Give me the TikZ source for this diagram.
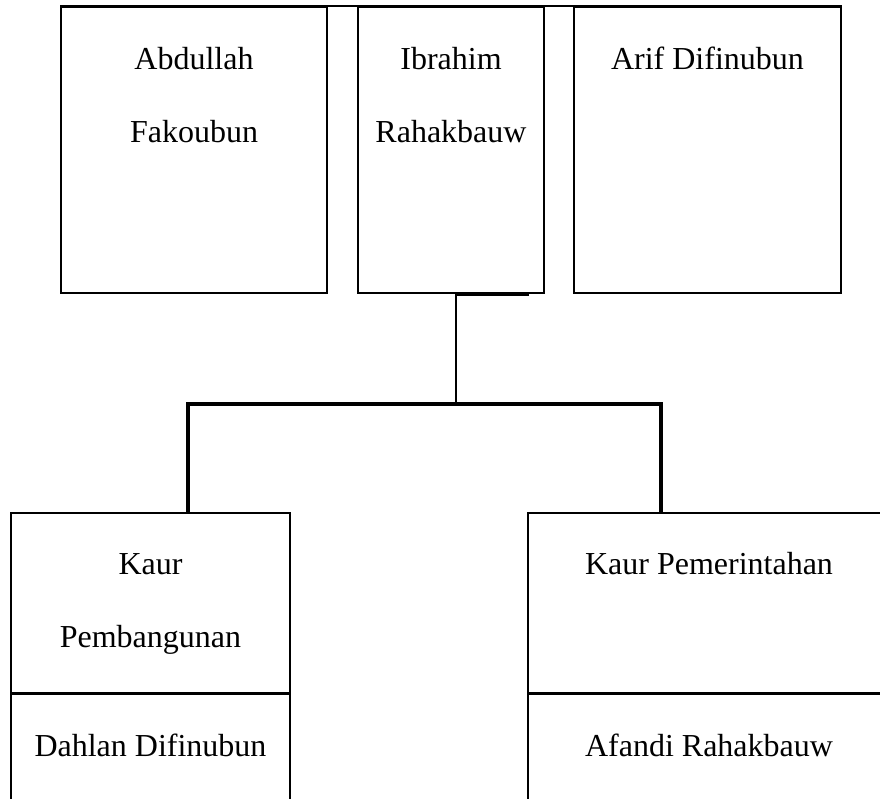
\documentclass[tikz,border=0pt]{standalone}
\usepackage{fontspec}
\setmainfont{Liberation Serif}
\usepackage{tikz}
\usetikzlibrary{positioning}
\tikzset{
  box/.style={draw, rectangle, line width=1.6pt, inner sep=0pt},
  link/.style={draw, line width=1.6pt},
  trunk/.style={draw, line width=4pt},
  tick/.style={draw, line width=3pt},
  lab/.style={font=\fontsize{32}{38}\selectfont, anchor=base, inner sep=0pt}
}

\begin{document}
\begin{tikzpicture}[x=1pt,y=-1pt]
  \useasboundingbox (0,0) rectangle (880,798);
  \clip (0,0) rectangle (880,798);

  % top row
  \node[box, minimum width=266pt, minimum height=286pt] (abdullah) at (194,150) {};
  \node[box, minimum width=186pt, minimum height=286pt] (ibrahim) at (451,150) {};
  \node[box, minimum width=267pt, minimum height=286pt] (arif) at (707.5,150) {};
  \draw[link] (abdullah.north west) -- (arif.north east);

  \node[lab] (abdullah1) at ([yshift=-63pt]abdullah.north) {Abdullah};
  \node[lab] (abdullah2) at ([yshift=-136pt]abdullah.north) {Fakoubun};
  \node[lab] (ibrahim1) at ([yshift=-63pt]ibrahim.north) {Ibrahim};
  \node[lab] (ibrahim2) at ([yshift=-136pt]ibrahim.north) {Rahakbauw};
  \node[lab] (arif1) at ([yshift=-63pt]arif.north) {Arif Difinubun};

  % bottom row
  \node[box, minimum width=279pt, minimum height=180pt] (kaurbang) at (150.5,603) {};
  \node[box, minimum width=279pt, minimum height=137pt, below=0pt of kaurbang] (dahlan) {};
  \node[box, minimum width=362pt, minimum height=180pt] (kaurpem) at (709,603) {};
  \node[box, minimum width=362pt, minimum height=137pt, below=0pt of kaurpem] (afandi) {};

  \node[lab] (kaurbang1) at ([yshift=-62pt]kaurbang.north) {Kaur};
  \node[lab] (kaurbang2) at ([yshift=-135pt]kaurbang.north) {Pembangunan};
  \node[lab] (kaurpem1) at ([yshift=-62pt]kaurpem.north) {Kaur Pemerintahan};
  \node[lab] (dahlan1) at ([yshift=-63pt]dahlan.north) {Dahlan Difinubun};
  \node[lab] (afandi1) at ([yshift=-63pt]afandi.north) {Afandi Rahakbauw};

  % connectors
  \coordinate (stem) at (456,293);
  \coordinate (nub) at (529,294.5);
  \coordinate (fork) at (456,404);
  \coordinate (forkL) at (188,404);
  \coordinate (forkR) at (661,404);

  \draw[tick] (stem |- nub) -- (nub);
  \draw[link] (stem) -- (fork);
  \draw[trunk] (kaurbang.north -| forkL) -- (forkL) -- (forkR) -- (kaurpem.north -| forkR);
\end{tikzpicture}
\end{document}
